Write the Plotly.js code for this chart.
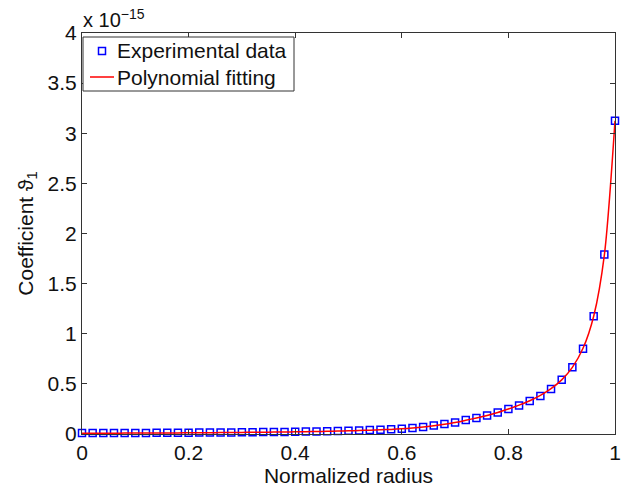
<!DOCTYPE html>
<html>
<head>
<meta charset="utf-8">
<script src="https://cdn.plot.ly/plotly-3.0.1.min.js"></script>
<style>html,body{margin:0;padding:0;background:#fff;}#chart{width:625px;height:490px;}</style>
</head>
<body>
<div id="chart"></div>
<script>
// Normalized radius
var radius = [0.00,0.02,0.04,0.06,0.08,0.10,0.12,0.14,0.16,0.18,
              0.20,0.22,0.24,0.26,0.28,0.30,0.32,0.34,0.36,0.38,
              0.40,0.42,0.44,0.46,0.48,0.50,0.52,0.54,0.56,0.58,
              0.60,0.62,0.64,0.66,0.68,0.70,0.72,0.74,0.76,0.78,
              0.80,0.82,0.84,0.86,0.88,0.90,0.92,0.94,0.96,0.98,1.00];
// Experimental data, coefficient in units of 1e-15
var experimental = [0.010,0.010,0.010,0.010,0.010,0.011,0.011,0.012,0.012,0.013,
                    0.013,0.014,0.014,0.015,0.016,0.017,0.018,0.019,0.020,0.021,
                    0.023,0.024,0.026,0.028,0.030,0.033,0.036,0.039,0.043,0.047,
                    0.052,0.060,0.070,0.085,0.100,0.115,0.140,0.160,0.185,0.215,
                    0.250,0.285,0.330,0.380,0.450,0.540,0.665,0.850,1.175,1.790,3.125];
// Polynomial fitting curve values (units of 1e-15)
var fitting = [0.008,0.008,0.008,0.008,0.009,0.009,0.010,0.010,0.011,0.011,
               0.012,0.012,0.013,0.014,0.015,0.016,0.017,0.018,0.019,0.020,
               0.022,0.023,0.025,0.027,0.029,0.032,0.035,0.038,0.042,0.046,
               0.052,0.060,0.070,0.083,0.098,0.115,0.137,0.160,0.185,0.215,
               0.250,0.288,0.332,0.385,0.452,0.540,0.665,0.855,1.175,1.785,3.125];
var seriesNames = ['Experimental data', 'Polynomial fitting'];
var xTicks = [0,0.2,0.4,0.6,0.8,1];
var xTickLabels = ['0','0.2','0.4','0.6','0.8','1'];
var yTicks = [0,0.5,1,1.5,2,2.5,3,3.5,4];
var yTickLabels = ['0','0.5','1','1.5','2','2.5','3','3.5','4'];

var font = 'Liberation Sans, Arial, Helvetica, sans-serif';
var W = 625, H = 490, ML = 82, MR = 10, MT = 33, MB = 56;
var PW = W - ML - MR, PH = H - MT - MB;
function px(x) { return (x - ML) / PW; }
function py(y) { return (H - MB - y) / PH; }

var traces = [
  {
    x: radius, y: experimental, mode: 'markers', type: 'scatter',
    name: seriesNames[0],
    marker: {symbol: 'square-open', size: 7, color: '#0000ff', line: {width: 1.5, color: '#0000ff'}},
    cliponaxis: false
  },
  {
    x: radius, y: fitting, mode: 'lines', type: 'scatter',
    name: seriesNames[1],
    line: {color: '#ff0000', width: 1.5, shape: 'spline', smoothing: 0.8}
  }
];

var axisCommon = {
  showgrid: false, zeroline: false, showline: true, mirror: 'ticks',
  linecolor: '#333333', linewidth: 1,
  ticks: 'inside', ticklen: 5, tickcolor: '#333333', tickwidth: 1,
  tickfont: {family: font, size: 21, color: '#111'}
};

// manual legend (MATLAB-like compact box)
var legendShapes = [
  {type: 'rect', xref: 'paper', yref: 'paper', x0: px(83), x1: px(294), y0: py(91), y1: py(37),
   line: {color: '#333', width: 1}, fillcolor: '#fff', layer: 'above'},
  {type: 'rect', xref: 'paper', yref: 'paper', x0: px(98.5), x1: px(105.5), y0: py(54.5), y1: py(47.5),
   line: {color: '#0000ff', width: 1.5}, fillcolor: 'rgba(0,0,0,0)', layer: 'above'},
  {type: 'line', xref: 'paper', yref: 'paper', x0: px(90), x1: px(114), y0: py(77), y1: py(77),
   line: {color: '#ff0000', width: 1.5}, layer: 'above'}
];
var legendTexts = [
  {xref: 'paper', yref: 'paper', x: px(115), y: py(51), xanchor: 'left', yanchor: 'middle',
   showarrow: false, text: seriesNames[0], font: {family: font, size: 21, color: '#111'}},
  {xref: 'paper', yref: 'paper', x: px(115), y: py(77), xanchor: 'left', yanchor: 'middle',
   showarrow: false, text: seriesNames[1], font: {family: font, size: 21, color: '#111'}}
];

var layout = {
  width: W, height: H,
  margin: {l: ML, r: MR, t: MT, b: MB},
  paper_bgcolor: '#fff', plot_bgcolor: '#fff',
  font: {family: font, color: '#111'},
  xaxis: Object.assign({}, axisCommon, {
    range: [0, 1], tickvals: xTicks, ticktext: xTickLabels,
    title: {text: 'Normalized radius', font: {family: font, size: 21, color: '#111'}, standoff: 2}
  }),
  yaxis: Object.assign({}, axisCommon, {
    range: [0, 4], tickvals: yTicks, ticktext: yTickLabels,
    title: {text: 'Coefficient ϑ<sub>1</sub>', font: {family: font, size: 21, color: '#111'}, standoff: 8}
  }),
  showlegend: false,
  shapes: legendShapes,
  annotations: [{
    xref: 'paper', yref: 'paper', x: -0.002, y: 1, xanchor: 'left', yanchor: 'bottom',
    yshift: 0, showarrow: false,
    text: 'x 10<sup>−15</sup>', font: {family: font, size: 20, color: '#111'}
  }].concat(legendTexts)
};

Plotly.newPlot('chart', traces, layout, {displayModeBar: false, staticPlot: true});
</script>
</body>
</html>
